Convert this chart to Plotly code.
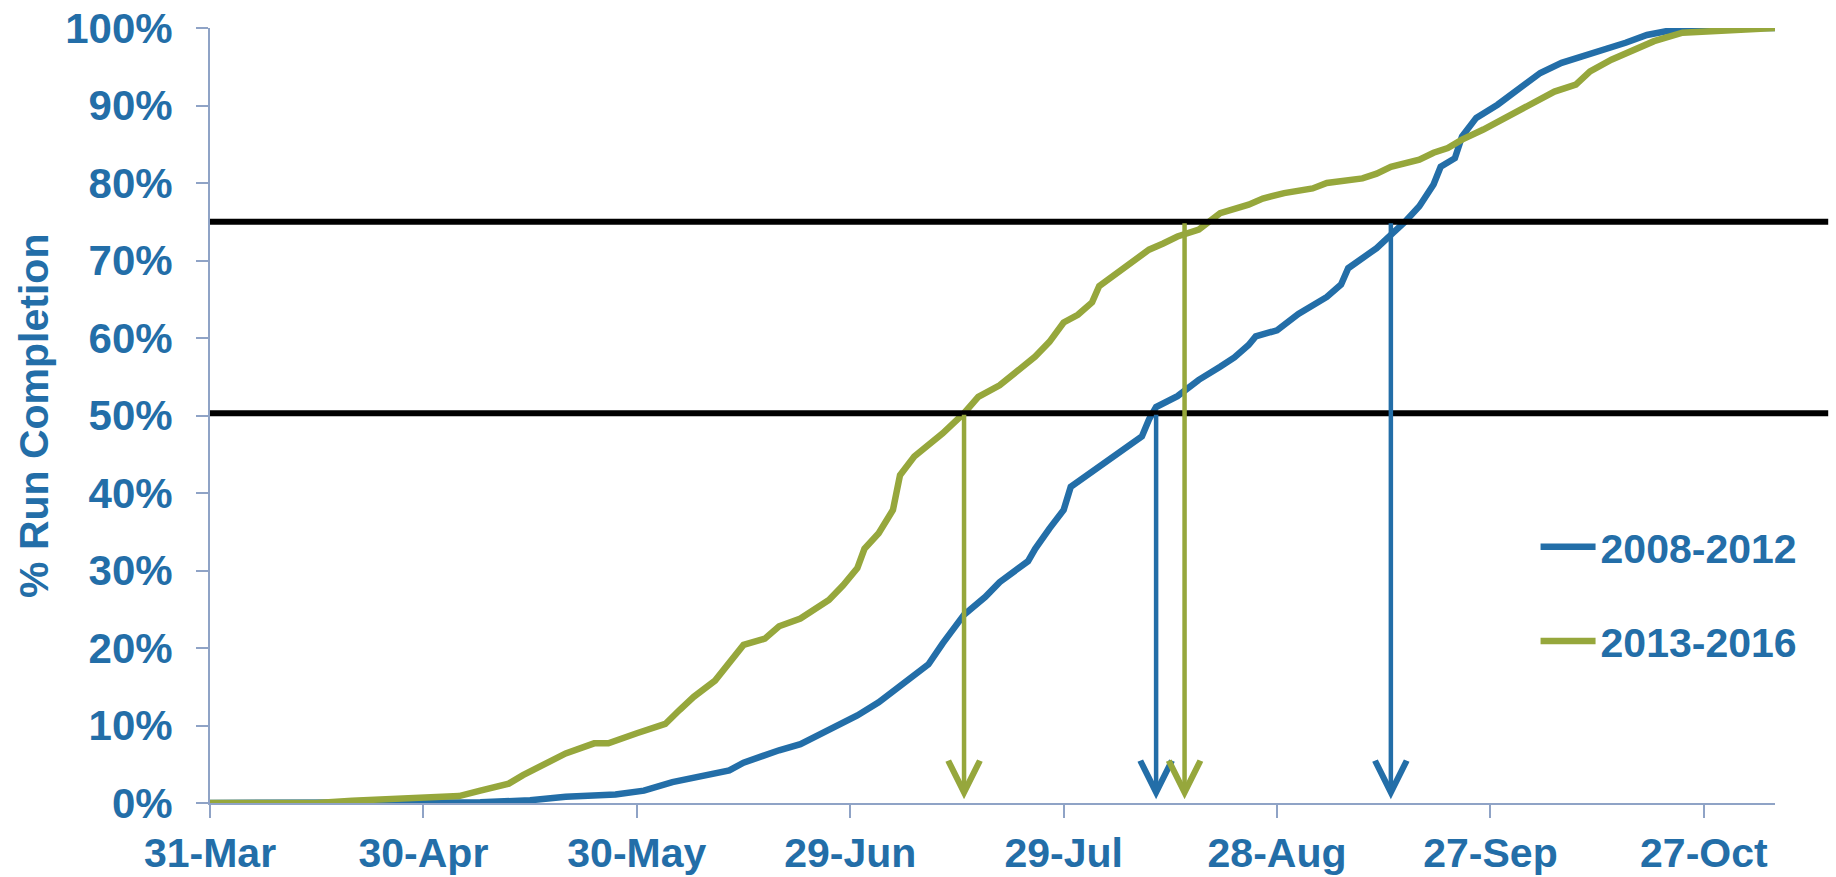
import plotly.graph_objects as go

# ---- data ----
green_dates = ["2015-03-31", "2015-04-15", "2015-04-20", "2015-04-27", "2015-05-02", "2015-05-05",
               "2015-05-08", "2015-05-12", "2015-05-14", "2015-05-17", "2015-05-20", "2015-05-24",
               "2015-05-26", "2015-05-30", "2015-06-03", "2015-06-05", "2015-06-07", "2015-06-10",
               "2015-06-12", "2015-06-14", "2015-06-17", "2015-06-19", "2015-06-22", "2015-06-26",
               "2015-06-28", "2015-06-30", "2015-07-01", "2015-07-03", "2015-07-05", "2015-07-06",
               "2015-07-08", "2015-07-12", "2015-07-15", "2015-07-17", "2015-07-20", "2015-07-23",
               "2015-07-25", "2015-07-27", "2015-07-29", "2015-07-31", "2015-08-02", "2015-08-03",
               "2015-08-06", "2015-08-08", "2015-08-10", "2015-08-12", "2015-08-14", "2015-08-17",
               "2015-08-20", "2015-08-24", "2015-08-26", "2015-08-29", "2015-09-02", "2015-09-04",
               "2015-09-09", "2015-09-11", "2015-09-13", "2015-09-17", "2015-09-19", "2015-09-21",
               "2015-09-23", "2015-09-26", "2015-09-28", "2015-10-01", "2015-10-03", "2015-10-06",
               "2015-10-09", "2015-10-11", "2015-10-14", "2015-10-17", "2015-10-20", "2015-10-24",
               "2015-10-29", "2015-11-02", "2015-11-06"]
green_vals = [0.0, 0.0, 0.3, 0.5, 0.7, 0.9,
              1.6, 2.5, 3.6, 4.9, 6.4, 7.7,
              7.7, 9.0, 10.2, 12.0, 13.7, 15.8,
              18.2, 20.4, 21.2, 22.8, 23.8, 26.2,
              28.1, 30.3, 32.8, 34.8, 37.8, 42.3,
              44.7, 47.7, 50.3, 52.4, 53.9, 56.0,
              57.6, 59.5, 62.0, 63.0, 64.6, 66.7,
              68.7, 69.9, 71.4, 72.2, 73.1, 74.0,
              76.1, 77.2, 78.0, 78.7, 79.3, 80.0,
              80.6, 81.2, 82.1, 83.0, 83.9, 84.5,
              85.6, 86.9, 87.9, 89.4, 90.5, 91.8,
              92.7, 94.4, 95.9, 97.2, 98.3, 99.4,
              99.6, 99.8, 100.0]

blue_dates = ["2015-03-31", "2015-05-08", "2015-05-15", "2015-05-20", "2015-05-27", "2015-05-31",
              "2015-06-04", "2015-06-08", "2015-06-12", "2015-06-14", "2015-06-17", "2015-06-19",
              "2015-06-22", "2015-06-24", "2015-06-26", "2015-06-27", "2015-06-30", "2015-07-03",
              "2015-07-04", "2015-07-07", "2015-07-10", "2015-07-12", "2015-07-15", "2015-07-18",
              "2015-07-20", "2015-07-24", "2015-07-25", "2015-07-27", "2015-07-29", "2015-07-30",
              "2015-08-03", "2015-08-06", "2015-08-09", "2015-08-10", "2015-08-11", "2015-08-14",
              "2015-08-17", "2015-08-20", "2015-08-22", "2015-08-24", "2015-08-25", "2015-08-28",
              "2015-08-31", "2015-09-04", "2015-09-06", "2015-09-07", "2015-09-09", "2015-09-11",
              "2015-09-13", "2015-09-15", "2015-09-17", "2015-09-19", "2015-09-20", "2015-09-22",
              "2015-09-23", "2015-09-25", "2015-09-28", "2015-09-30", "2015-10-02", "2015-10-04",
              "2015-10-07", "2015-10-10", "2015-10-13", "2015-10-16", "2015-10-19", "2015-10-24",
              "2015-11-06"]
blue_vals = [0.0, 0.1, 0.35, 0.8, 1.1, 1.6,
             2.7, 3.4, 4.2, 5.2, 6.2, 6.8,
             7.6, 8.5, 9.5, 9.9, 11.3, 13.0,
             13.7, 16.0, 17.9, 20.6, 24.3, 26.6,
             28.5, 31.2, 32.8, 35.4, 37.8, 40.8,
             43.3, 45.3, 47.3, 49.5, 51.1, 52.5,
             54.6, 56.3, 57.5, 59.1, 60.2, 61.0,
             63.1, 65.3, 66.9, 69.0, 70.3, 71.6,
             73.3, 75.0, 77.0, 79.8, 82.1, 83.2,
             86.0, 88.4, 90.1, 91.4, 92.7, 94.2,
             95.5, 96.3, 97.2, 98.1, 99.1, 100.0,
             100.0]

series_names = ["2008-2012", "2013-2016"]

# reference levels (fraction) and the dates where each series reaches them
level_vals = [0.503, 0.75]
arrow_dates = ["2015-07-15", "2015-08-11", "2015-08-15", "2015-09-13"]
arrow_levels = [0.503, 0.503, 0.75, 0.75]
arrow_series = ["2013-2016", "2008-2012", "2013-2016", "2008-2012"]
arrow_tip = 0.005

x_tickvals = ["2015-03-31", "2015-04-30", "2015-05-30", "2015-06-29",
              "2015-07-29", "2015-08-28", "2015-09-27", "2015-10-27"]
x_ticktext = ["31-Mar", "30-Apr", "30-May", "29-Jun", "29-Jul", "28-Aug", "27-Sep", "27-Oct"]
x_range = ["2015-03-31", "2015-11-06"]
y_title = "% Run Completion"

# ---- styles ----
BLUE = "#236EA8"
GREEN = "#96A73C"
AXIS = "#8FA3C6"
FONT = "Liberation Sans"
colors = {"2008-2012": BLUE, "2013-2016": GREEN}

fig = go.Figure()
fig.add_trace(go.Scatter(x=blue_dates, y=[v / 100 for v in blue_vals], mode="lines",
                         name=series_names[0], legendgroup="a",
                         line=dict(color=BLUE, width=6.5)))
fig.add_trace(go.Scatter(x=green_dates, y=[v / 100 for v in green_vals], mode="lines",
                         name=series_names[1], legendgroup="b",
                         line=dict(color=GREEN, width=6.5)))

for lv in level_vals:
    fig.add_shape(type="line", xref="paper", x0=0, x1=1.034, yref="y", y0=lv, y1=lv,
                  line=dict(color="black", width=6), layer="above")

for d, lv, s in zip(arrow_dates, arrow_levels, arrow_series):
    fig.add_annotation(x=d, y=arrow_tip, ax=d, ay=lv, xref="x", yref="y", axref="x", ayref="y",
                       text="", showarrow=True, arrowhead=5, arrowsize=1.38, arrowwidth=4.5,
                       arrowcolor=colors[s], standoff=0, startstandoff=0)

# y-axis title
fig.add_annotation(text=y_title, xref="paper", yref="paper", x=-0.1128, y=0.5,
                   xanchor="center", yanchor="middle", textangle=-90, showarrow=False,
                   font=dict(family=FONT, size=41, color=BLUE, weight="bold"))

fig.update_layout(
    width=1836, height=877,
    margin=dict(l=210, r=61, t=28, b=74, autoexpand=False),
    plot_bgcolor="white", paper_bgcolor="white",
    font=dict(family=FONT, size=41, color=BLUE),
    showlegend=True,
    legend=dict(x=0.847, xanchor="left", y=0.3735, yanchor="top",
                bgcolor="rgba(0,0,0,0)", tracegroupgap=38, itemwidth=55,
                font=dict(family=FONT, size=41, color=BLUE, weight="bold")),
    xaxis=dict(type="date", range=x_range, tickvals=x_tickvals, ticktext=x_ticktext,
               automargin=False, ticklabeloverflow="allow",
               showgrid=False, zeroline=False, showline=True, linecolor=AXIS, linewidth=2,
               ticks="outside", ticklen=13, tickwidth=2, tickcolor=AXIS,
               tickfont=dict(family=FONT, size=41, color=BLUE, weight="bold")),
    yaxis=dict(range=[0, 1], tickvals=[i / 10 for i in range(11)], tickformat=".0%",
               automargin=False, ticklabelstandoff=15, ticklabeloverflow="allow",
               showgrid=False, zeroline=False, showline=True, linecolor=AXIS, linewidth=2,
               ticks="outside", ticklen=12, tickwidth=2, tickcolor=AXIS,
               tickfont=dict(family=FONT, size=42, color=BLUE, weight="bold")),
)

# remove the page's default 8px body margin so the figure fills the window exactly
fig.write_html("out.html", config={"displayModeBar": False},
               post_script="document.body.style.margin='0';document.body.style.overflow='hidden';")
